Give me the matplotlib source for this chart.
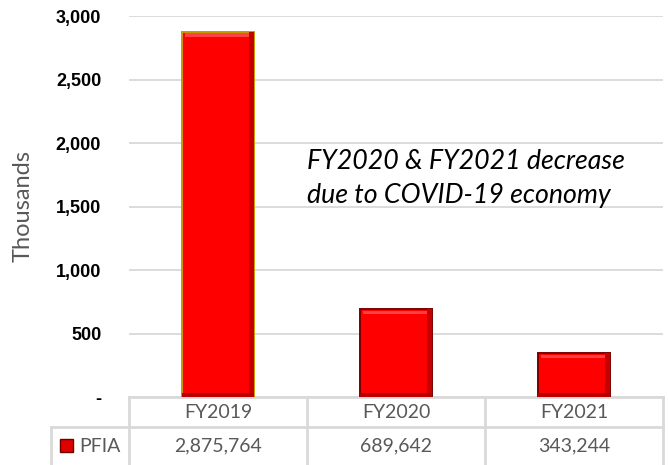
import matplotlib
matplotlib.use("Agg")
import matplotlib.pyplot as plt
from matplotlib.lines import Line2D
from matplotlib.patches import Rectangle
from matplotlib.ticker import FuncFormatter

# data
categories = ["FY2019", "FY2020", "FY2021"]
pfia = [2875764, 689642, 343244]
series_name = "PFIA"
note = "FY2020 & FY2021 decrease\ndue to COVID-19 economy"

vals_k = [v / 1000 for v in pfia]
x = list(range(len(categories)))

fig = plt.figure(figsize=(6.68, 4.65), dpi=100)
ax = fig.add_axes([129 / 668, 68 / 465, 534 / 668, 381 / 465])

edges = ["#C99A06", "#7A0000", "#7A0000"]
bars = ax.bar(x, vals_k, width=0.41, color="#FF0000", edgecolor=edges, linewidth=1.4, zorder=3)
# rough bevel look: darker right/bottom edge, lighter top
for b in bars:
    bx, bw, bh = b.get_x(), b.get_width(), b.get_height()
    ax.add_patch(Rectangle((bx + bw * 0.93, 0), bw * 0.07, bh, color="#C40000", zorder=3.5, lw=0))
    ax.add_patch(Rectangle((bx, 0), bw, 35, color="#B80000", zorder=3.6, lw=0))
    ax.add_patch(Rectangle((bx + bw * 0.05, bh - 40), bw * 0.88, 30,
                           color="#FF4040", zorder=3.6, lw=0))

ax.set_xlim(-0.5, 2.5)
ax.set_ylim(0, 3000)
ax.set_yticks(range(0, 3001, 500))
ax.yaxis.set_major_formatter(FuncFormatter(lambda v, p: "-" if v == 0 else f"{v:,.0f}"))
ax.tick_params(axis="y", length=0, pad=20, labelsize=13)
for lab in ax.get_yticklabels():
    lab.set_fontweight("bold")
    lab.set_family("Liberation Sans")
ax.set_xticks([])
ax.grid(axis="y", color="#D9D9D9", linewidth=1.3, zorder=0)
for s in ax.spines.values():
    s.set_visible(False)

ax.set_ylabel("Thousands", family="Lato", fontsize=17, color="#595959")
ax.yaxis.set_label_coords(-0.178, 0.5)

ax.text(0.333, 1720, note, family="Lato", style="italic", fontsize=19.3,
        color="black", va="center", ha="left", linespacing=1.42,
        transform=ax.get_yaxis_transform())

# data table under the axes
tr = ax.get_xaxis_transform()
grey = "#D9D9D9"
y_top = 0
y_mid = -(427 - 397) / 381
y_bot = -(465 - 397) / 381
left_k = -0.5 - (129 - 51) / 178


def line(xs, ys):
    ax.add_line(Line2D(xs, ys, transform=tr, color=grey, lw=2, clip_on=False, zorder=1))


line([-0.5, 2.5], [y_top, y_top])
line([left_k, 2.5], [y_mid, y_mid])
for xv in [-0.5, 0.5, 1.5, 2.5]:
    line([xv, xv], [y_top, y_bot])
line([left_k, left_k], [y_mid, y_bot])

for i, (c, v) in enumerate(zip(categories, pfia)):
    ax.text(i, (y_top + y_mid) / 2, c, transform=tr, ha="center", va="center",
            family="Lato", fontsize=14, color="#595959", clip_on=False)
    ax.text(i, (y_mid + y_bot) / 2, f"{v:,}", transform=tr, ha="center", va="center",
            family="Lato", fontsize=14, color="#595959", clip_on=False)

fig.patches.append(Rectangle((60 / 668, (465 - 452) / 465), 13 / 668, 13 / 465,
                             transform=fig.transFigure, facecolor="#E00000",
                             edgecolor="#6A0000", lw=1))
fig.text(79 / 668, (465 - 446) / 465, series_name, family="Lato", fontsize=14,
         color="#595959", va="center", ha="left")

fig.savefig("out.png", dpi=100)
